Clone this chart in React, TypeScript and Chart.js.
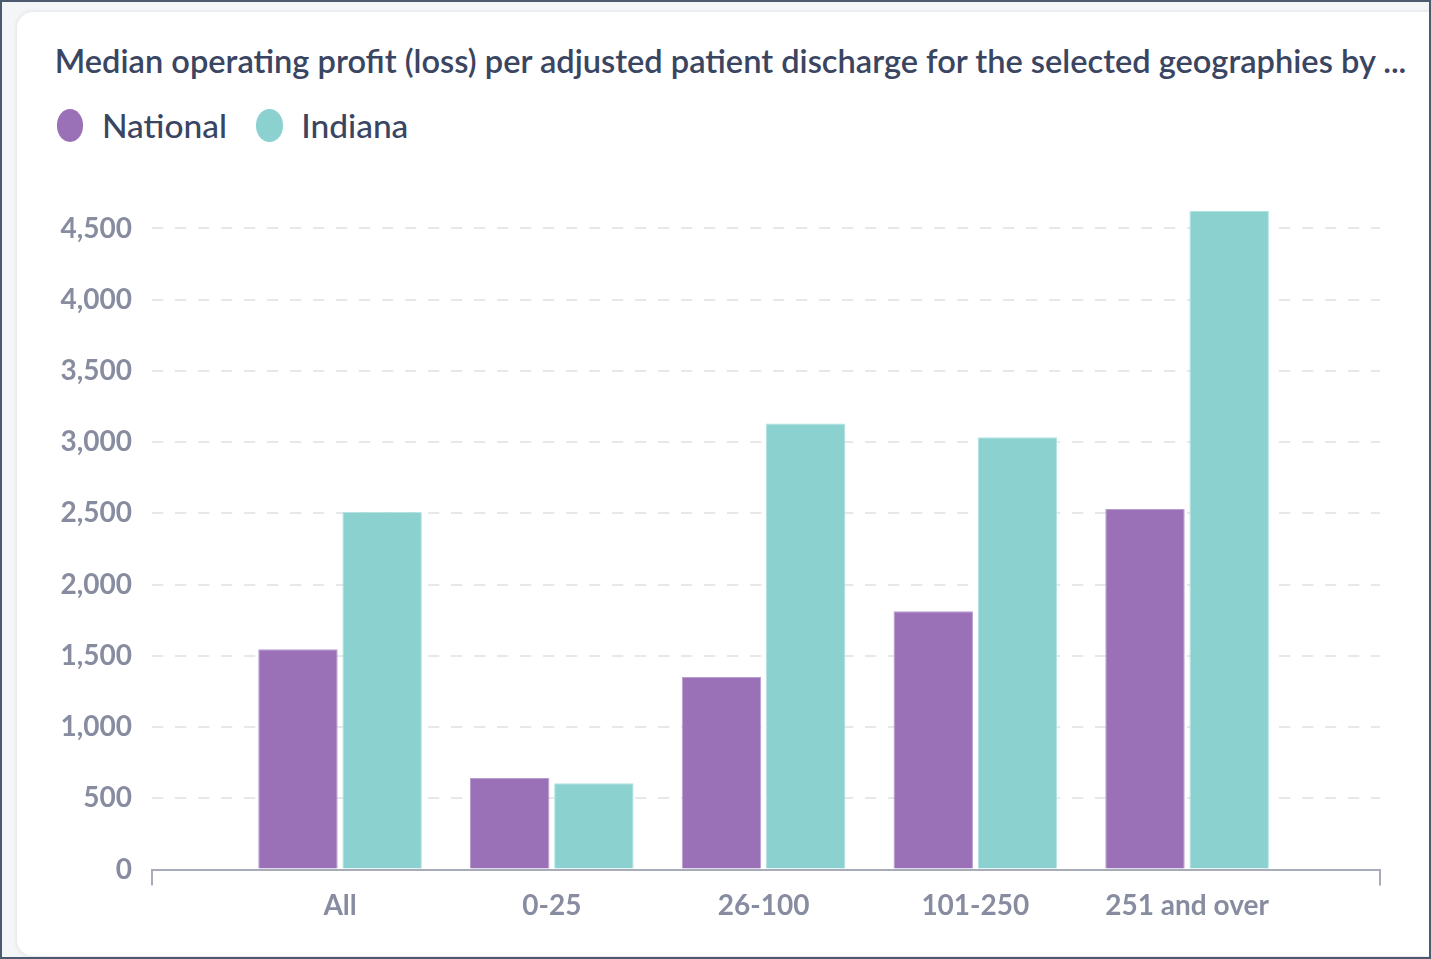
import React, { useEffect, useRef } from "react";
import { Chart, registerables } from "chart.js";

Chart.register(...registerables);

// ---- data ----
const TITLE =
  "Median operating profit (loss) per adjusted patient discharge for the selected geographies by ...";
const CATEGORIES = ["All", "0-25", "26-100", "101-250", "251 and over"];
const SERIES_NAMES = ["National", "Indiana"];
const NATIONAL = [1546, 643, 1352, 1813, 2530];
const INDIANA = [2511, 605, 3131, 3035, 4622];
const Y_TICKS = [0, 500, 1000, 1500, 2000, 2500, 3000, 3500, 4000, 4500];

// ---- styles ----
const COLORS = ["#9a71b7", "#8bd1cf"];
const EDGE_COLORS = ["#b99dd0", "#b2e3e1"];
const TITLE_COLOR = "#3a4562";
const TICK_COLOR = "#878ca0";
const AXIS_COLOR = "#a8acb8";
const GRID_COLOR = "#e8e8eb";

const PAGE_W = 1431;
const PAGE_H = 959;

const PLOT_LEFT = 152;
const PLOT_RIGHT = 1380;
const PLOT_TOP = 200;
const PLOT_BOTTOM = 869.5;
const X_MIN = -0.888;
const X_MAX = 4.911;
const Y_MAX = 4700;

const axisEndTicks = {
  id: "axisEndTicks",
  afterDraw(chart: any) {
    const xs = chart.scales.x;
    const ctx = chart.ctx;
    ctx.save();
    ctx.strokeStyle = AXIS_COLOR;
    ctx.lineWidth = 2;
    [xs.left, xs.right].forEach((px: number) => {
      ctx.beginPath();
      ctx.moveTo(px, xs.top);
      ctx.lineTo(px, xs.top + 16);
      ctx.stroke();
    });
    ctx.restore();
  },
};

export default function App() {
  const ref = useRef<HTMLCanvasElement | null>(null);

  useEffect(() => {
    if (!ref.current) return;
    const series = [NATIONAL, INDIANA];
    const chart = new Chart(ref.current, {
      type: "bar",
      data: {
        datasets: series.map((vals, si) => ({
          label: SERIES_NAMES[si],
          data: vals.map((v, i) => ({ x: i, y: v })),
          backgroundColor: COLORS[si],
          borderColor: EDGE_COLORS[si],
          borderWidth: 1,
          categoryPercentage: 0.795,
          barPercentage: 0.944,
        })),
      },
      options: {
        responsive: false,
        devicePixelRatio: 1,
        animation: false,
        layout: {
          padding: { left: 0, top: PLOT_TOP, right: PAGE_W - PLOT_RIGHT, bottom: 0 },
        },
        plugins: {
          legend: { display: false },
          title: { display: false },
          tooltip: { enabled: false },
        },
        scales: {
          x: {
            type: "linear",
            offset: false,
            min: X_MIN,
            max: X_MAX,
            bounds: "data",
            afterBuildTicks: (scale: any) => {
              scale.ticks = CATEGORIES.map((_, i) => ({ value: i }));
            },
            afterFit: (scale: any) => {
              scale.height = PAGE_H - PLOT_BOTTOM;
            },
            grid: { display: false, drawTicks: false, offset: false },
            border: { display: true, color: AXIS_COLOR, width: 2 },
            ticks: {
              autoSkip: false,
              maxRotation: 0,
              padding: 20,
              color: TICK_COLOR,
              font: { family: "Lato", size: 28, weight: "bold" },
              callback: (v: any) => CATEGORIES[v] ?? "",
            },
          },
          y: {
            type: "linear",
            min: 0,
            max: Y_MAX,
            afterBuildTicks: (scale: any) => {
              scale.ticks = Y_TICKS.map((v) => ({ value: v }));
            },
            afterFit: (scale: any) => {
              scale.width = PLOT_LEFT;
            },
            grid: { color: GRID_COLOR, lineWidth: 2, drawTicks: false },
            border: { display: false, dash: [11.3, 11.7] },
            ticks: {
              padding: 20,
              color: TICK_COLOR,
              font: { family: "Lato", size: 28, weight: "bold" },
              callback: (v: any) => Number(v).toLocaleString("en-US"),
            },
          },
        },
      },
      plugins: [axisEndTicks],
    });
    return () => chart.destroy();
  }, []);

  const legendText: React.CSSProperties = {
    font: "500 33.5px Lato",
    color: TITLE_COLOR,
    lineHeight: 1,
    whiteSpace: "nowrap",
  };
  const dot = (c: string): React.CSSProperties => ({
    width: 26.7,
    height: 32.7,
    borderRadius: "50%",
    background: c,
    flex: "none",
  });

  return (
    <>
      <div
        style={{
          position: "fixed",
          left: 0,
          top: 0,
          width: PAGE_W,
          height: PAGE_H,
          boxSizing: "border-box",
          border: "2px solid #4c5a6f",
          background: "#f3f5f7",
          overflow: "hidden",
        }}
      >
        <div
          style={{
            position: "absolute",
            left: 15,
            top: 10,
            right: -40,
            bottom: 1,
            background: "#ffffff",
            borderRadius: 16,
            boxShadow: "0 0 4px rgba(40,50,70,0.12)",
          }}
        />
      </div>
      <div
        style={{
          position: "fixed",
          left: 0,
          top: 0,
          width: PAGE_W,
          height: PAGE_H,
        }}
      >
        <div
          style={{
            position: "absolute",
            left: 54.8,
            top: 44.5,
            font: "600 32.6px Lato",
            lineHeight: 1,
            color: TITLE_COLOR,
            whiteSpace: "nowrap",
          }}
        >
          {TITLE}
        </div>
        <div
          style={{
            position: "absolute",
            left: 56.7,
            top: 109,
            height: 32.7,
            display: "flex",
            alignItems: "center",
          }}
        >
          {SERIES_NAMES.map((name, i) => (
            <div
              key={name}
              style={{ display: "flex", alignItems: "center", marginLeft: i === 0 ? 0 : 29 }}
            >
              <div style={dot(COLORS[i])} />
              <div style={{ ...legendText, marginLeft: 18.5 }}>{name}</div>
            </div>
          ))}
        </div>
        <canvas
          ref={ref}
          width={PAGE_W}
          height={PAGE_H}
          style={{ position: "absolute", left: 0, top: 0, width: PAGE_W, height: PAGE_H }}
        />
      </div>
    </>
  );
}
